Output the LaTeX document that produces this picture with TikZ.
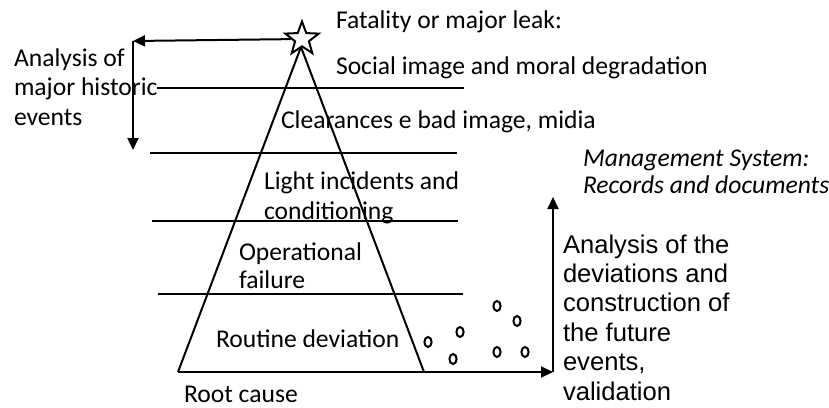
\documentclass[tikz,border=0pt]{standalone}
\usepackage{fontspec}
\setmainfont{Carlito}
\newfontfamily\arialfont{Liberation Sans}
\usetikzlibrary{shapes.geometric,arrows.meta}

\newcommand\pyrsize{\fontsize{12.8}{14.7}\selectfont}

\begin{document}
\begin{tikzpicture}[x=0.5pt,y=-0.5pt,line width=1pt,
  >={Triangle[length=6pt,width=5.5pt]},
  lbl/.style={anchor=base west,align=left,inner sep=0pt,font=\pyrsize}]

\useasboundingbox (0,0) rectangle (829,407);

% Pyramid corners and arrow ends
 \coordinate (apex) at (301,47);
 \coordinate (bl) at (178,372);
 \coordinate (br) at (424,372);
 \coordinate (baseend) at (553,372);
 \coordinate (recup) at (553,197);
 \coordinate (histtop) at (133,41);
 \coordinate (histdown) at (133,150);

 \draw (br) -- (apex) -- (bl);
 \draw[->] (bl) -- (baseend); % base, to the right
 \draw[->] (baseend) -- (recup);
 \node[star,star points=5,star point ratio=2.4,draw,fill=white,
   minimum size=17.5pt,inner sep=0pt] (star) at (302,39) {};
 \draw[->] (star) -- (histtop);
 \draw[->] (histtop) -- (histdown);

% Level lines
 \draw (157,88) -- (464,88);
 \draw (150,153) -- (457,153);
 \draw (152,221) -- (458,221);
 \draw (158,294) -- (463,294);

% Small deviations (circles)
 \foreach \cx/\cy in {428/342, 460/332, 453/359, 497/306, 517/321, 497/352, 525/352}
   \draw (\cx,\cy) ellipse (1.8pt and 2.5pt);

% Level labels (multi-line: position is the last baseline)
 \node[lbl] (fatal) at (335,28) {Fatality or major leak:};
 \node[lbl] (social) at (335,74) {Social image and moral degradation};
 \node[lbl] (clear) at (280,128) {Clearances e bad image, midia};
 \node[lbl,font={\fontsize{12.8}{15}\selectfont}] (light) at (263,219)
   {Light incidents and\\conditioning};
 \node[lbl,font={\fontsize{12.8}{14}\selectfont}] (oper) at (238,288)
   {Operational\\failure};
 \node[lbl] (routine) at (215,347) {Routine deviation};
 \node[lbl] (root) at (183,402) {Root cause};

% Side labels
 \node[lbl,font={\fontsize{12.8}{14.75}\selectfont}] (hist) at (13,125)
   {Analysis of\\major historic\\events};
 \node[lbl,font={\fontsize{12.8}{13.5}\selectfont\itshape}] (mgmt) at (582,193)
   {Management System:\\Records and documents};
 \node[lbl,font={\fontsize{12.8}{14.7}\selectfont\arialfont}] (devs) at (562,400)
   {Analysis of the\\deviations and\\construction of\\the future\\events,\\validation};

\end{tikzpicture}
\end{document}
